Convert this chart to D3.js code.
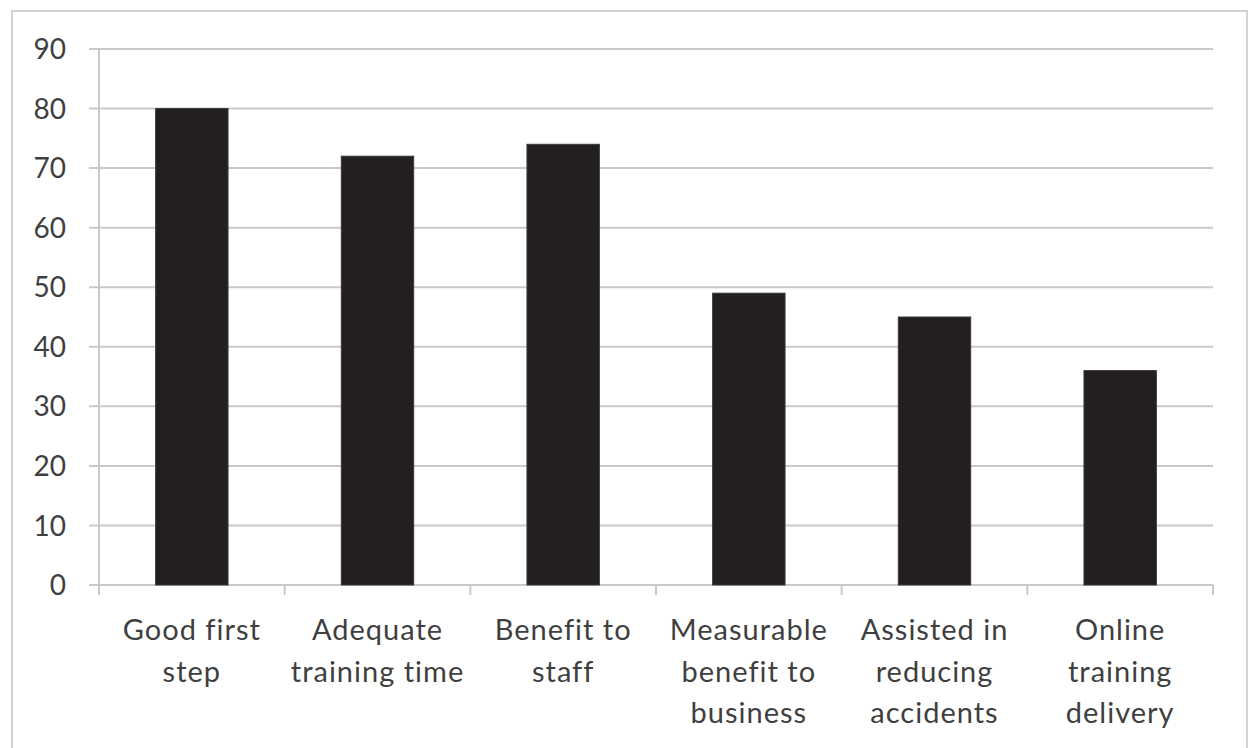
<!DOCTYPE html>
<html>
<head>
<meta charset="utf-8">
<script src="https://cdn.jsdelivr.net/npm/d3@7"></script>
<style>
  html, body { margin: 0; padding: 0; background: #fff; }
  svg text { font-family: Lato, "Open Sans", sans-serif; fill: #3f3f3f; }
</style>
</head>
<body>
<svg id="chart" width="1249" height="748"></svg>
<script>
// data
const categories = [
    ["Good first", "step"],
    ["Adequate", "training time"],
    ["Benefit to", "staff"],
    ["Measurable", "benefit to", "business"],
    ["Assisted in", "reducing", "accidents"],
    ["Online", "training", "delivery"]
];
const values = [80, 72, 74, 49, 45, 36];
const yTicks = [0, 10, 20, 30, 40, 50, 60, 70, 80, 90];

const svg = d3.select("#chart");
const margin = { left: 99, right: 1213, top: 49, bottom: 585 };
const gridColor = "#c9c9c9";

// outer frame of the chart
svg.append("rect")
    .attr("x", 12).attr("y", 11)
    .attr("width", 1247 - 12).attr("height", 760)
    .attr("fill", "none")
    .attr("stroke", "#d2d2d2")
    .attr("stroke-width", 2);

const x = d3.scaleBand()
    .domain(d3.range(categories.length))
    .range([margin.left, margin.right])
    .paddingInner(0.61)
    .paddingOuter(0.305);

const y = d3.scaleLinear()
    .domain([0, 90])
    .range([margin.bottom, margin.top]);

// horizontal gridlines
svg.append("g")
    .selectAll("line")
    .data(yTicks)
    .enter()
    .append("line")
    .attr("x1", margin.left - 10)
    .attr("x2", margin.right)
    .attr("y1", (d) => y(d))
    .attr("y2", (d) => y(d))
    .attr("stroke", gridColor)
    .attr("stroke-width", 2);

// y axis line
svg.append("line")
    .attr("x1", margin.left).attr("x2", margin.left)
    .attr("y1", margin.top).attr("y2", margin.bottom + 10)
    .attr("stroke", gridColor)
    .attr("stroke-width", 2);

// category separators below the x axis
const step = (margin.right - margin.left) / categories.length;
svg.append("g")
    .selectAll("line")
    .data(d3.range(categories.length + 1))
    .enter()
    .append("line")
    .attr("x1", (i) => margin.left + i * step)
    .attr("x2", (i) => margin.left + i * step)
    .attr("y1", margin.bottom)
    .attr("y2", margin.bottom + 10)
    .attr("stroke", gridColor)
    .attr("stroke-width", 2);

// bars
svg.append("g")
    .selectAll("rect")
    .data(values)
    .enter()
    .append("rect")
    .attr("x", (d, i) => x(i))
    .attr("y", (d) => y(d))
    .attr("width", x.bandwidth())
    .attr("height", (d) => y(0) - y(d))
    .attr("fill", "#231f20")
    .attr("stroke", "#3a3a3a")
    .attr("stroke-width", 1);

// y tick labels
svg.append("g")
    .selectAll("text")
    .data(yTicks)
    .enter()
    .append("text")
    .attr("x", 66)
    .attr("y", (d) => y(d))
    .attr("dy", "0.36em")
    .attr("text-anchor", "end")
    .attr("font-size", 28)
    .text((d) => d);

// category labels
const labels = svg.append("g")
    .selectAll("text")
    .data(categories)
    .enter()
    .append("text")
    .attr("text-anchor", "middle")
    .attr("font-size", 29)
    .attr("letter-spacing", 1)
    .attr("transform", (d, i) => `translate(${x(i) + x.bandwidth() / 2},640)`);

labels.selectAll("tspan")
    .data((d) => d)
    .enter()
    .append("tspan")
    .attr("x", 0)
    .attr("y", (d, j) => j * 41.5)
    .text((d) => d);
</script>
</body>
</html>
